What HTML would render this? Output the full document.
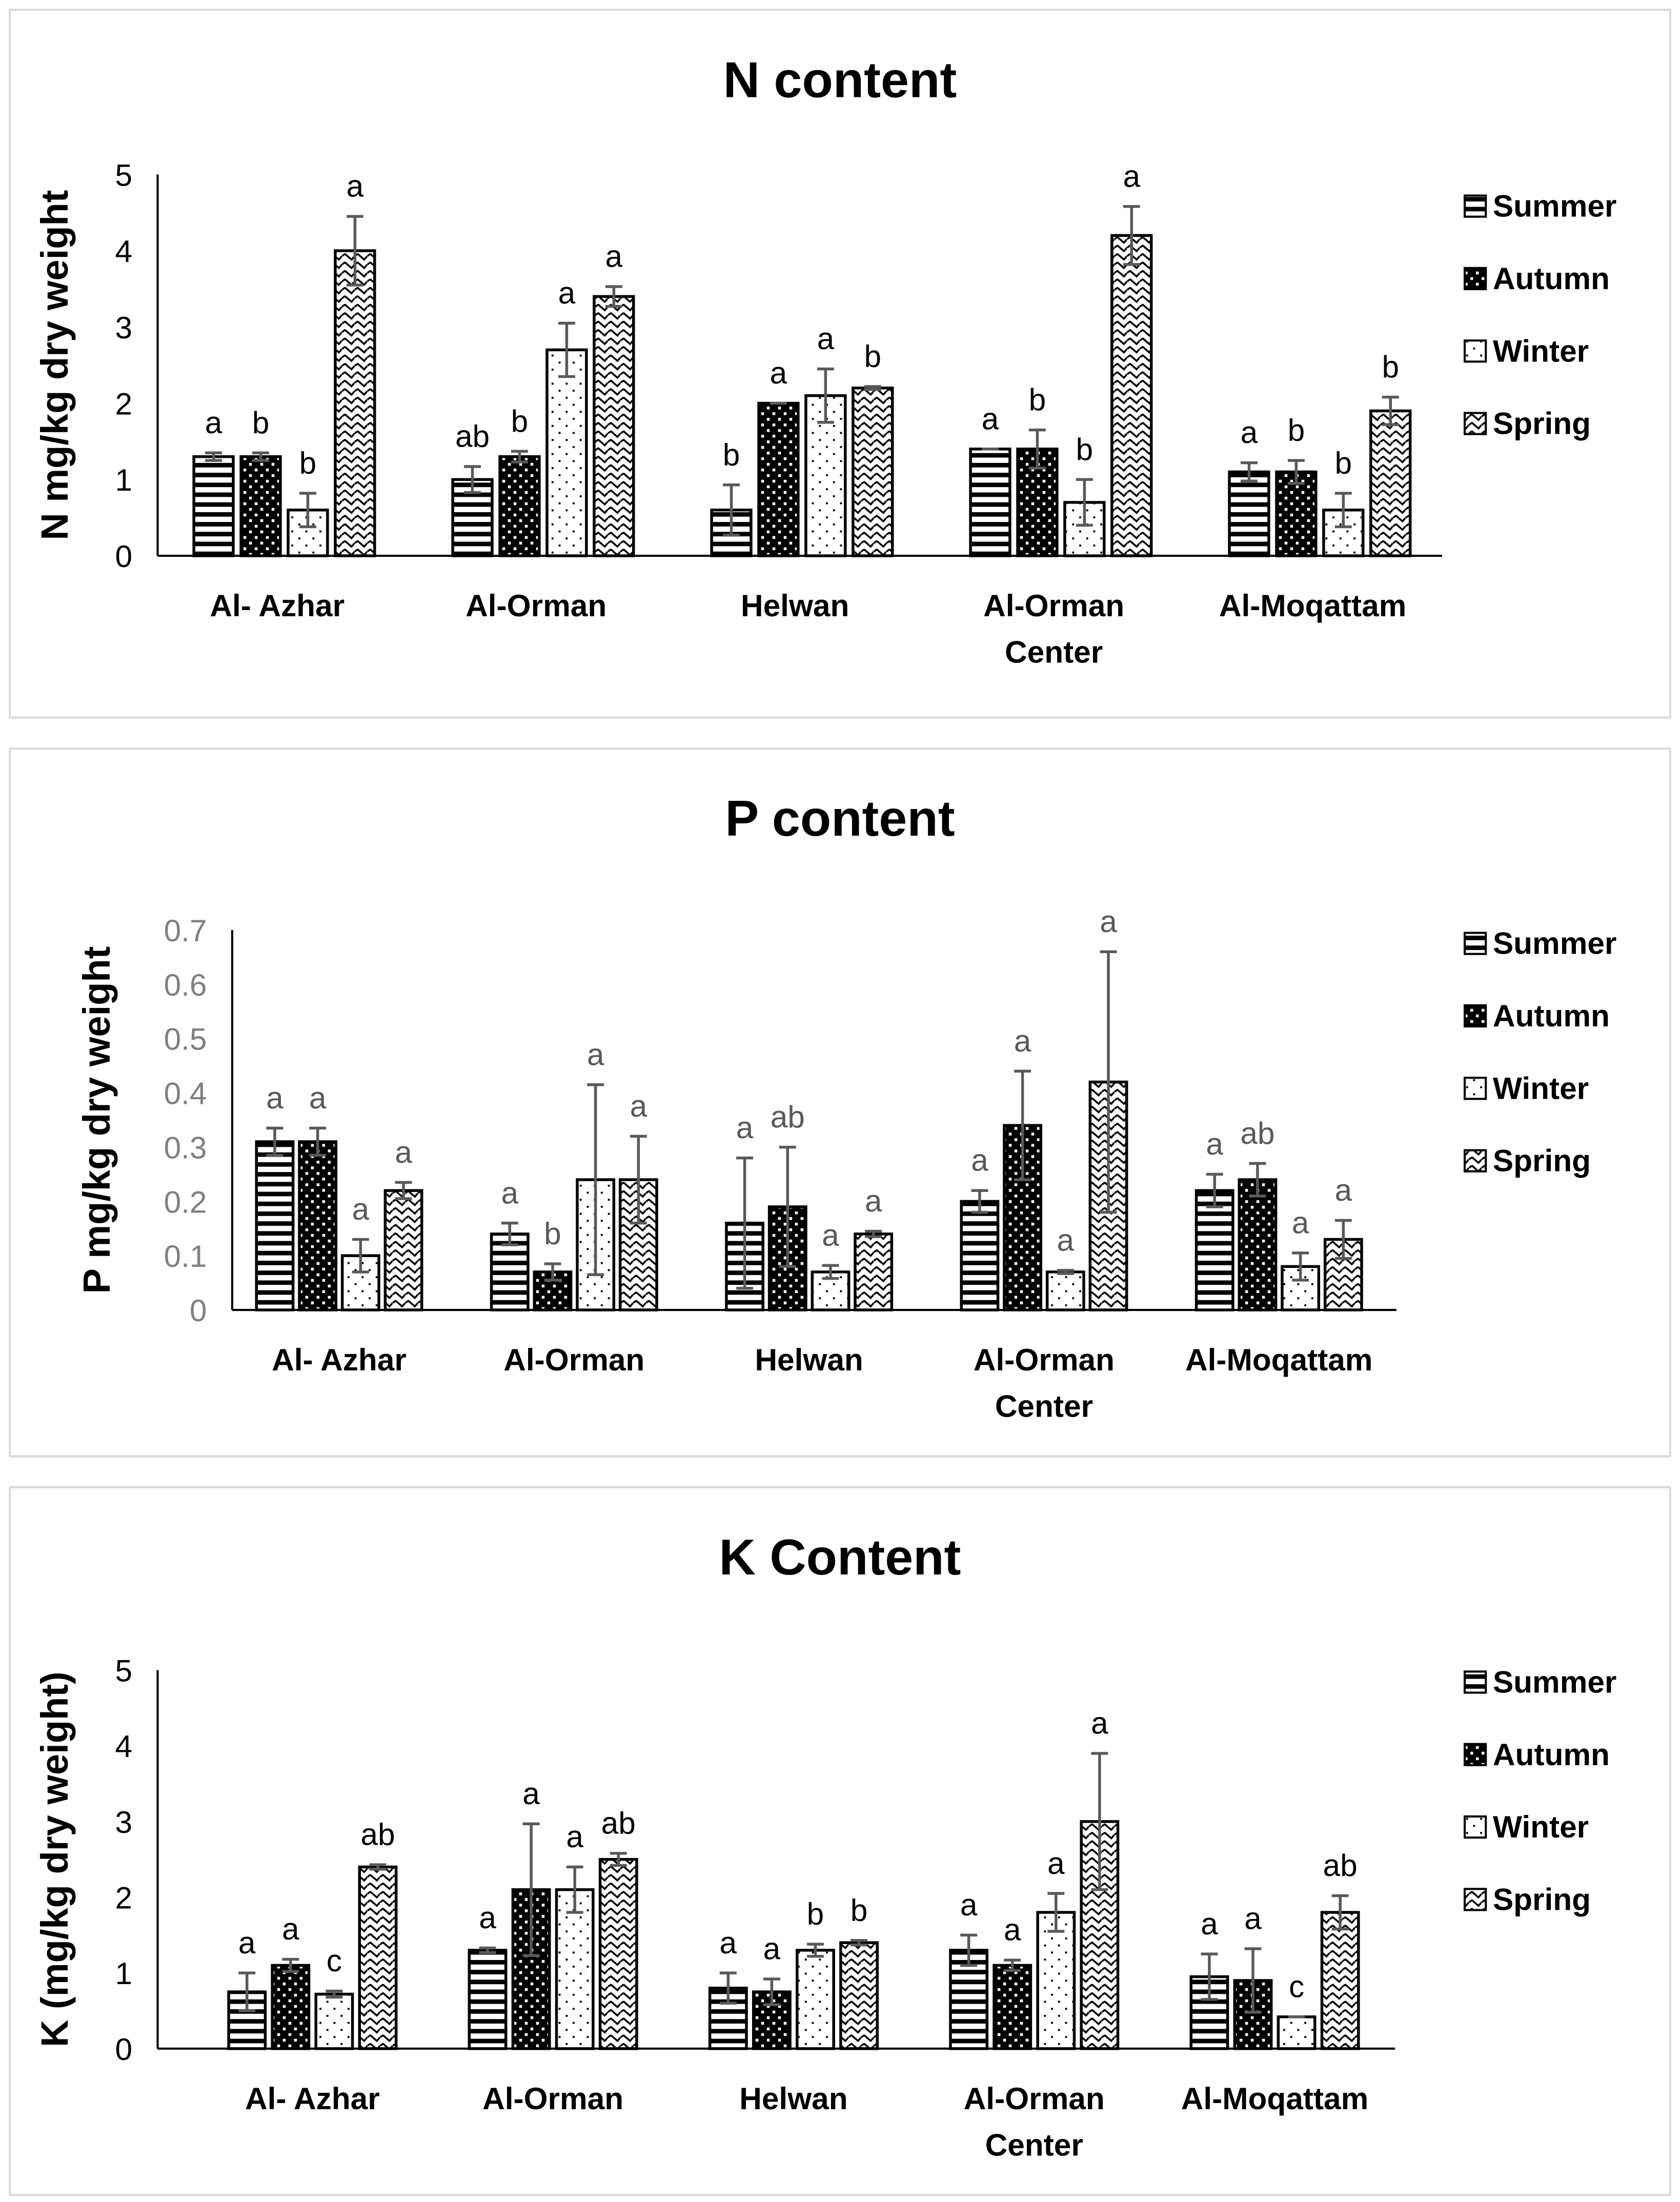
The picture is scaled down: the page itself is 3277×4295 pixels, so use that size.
<!DOCTYPE html>
<html><head><meta charset="utf-8">
<style>
html,body{margin:0;padding:0;background:#fff;}
svg{display:block;}
text{font-family:"Liberation Sans",sans-serif;}
</style></head>
<body>
<svg id="chart" width="3277" height="4295" viewBox="0 0 1194 1565" xmlns="http://www.w3.org/2000/svg">
<defs>
<pattern id="pSummer" patternUnits="userSpaceOnUse" width="8" height="7"><rect width="8" height="7" fill="#fff"/><rect y="0" width="8" height="3.2" fill="#000"/></pattern>
<pattern id="pAutumn" patternUnits="userSpaceOnUse" width="8" height="8"><rect width="8" height="8" fill="#000"/><rect x="1" y="1" width="2" height="2" fill="#fff"/><rect x="5" y="5" width="2" height="2" fill="#fff"/></pattern>
<pattern id="pWinter" patternUnits="userSpaceOnUse" width="10" height="10"><rect width="10" height="10" fill="#fff"/><rect x="2" y="2" width="1.4" height="1.4" fill="#000"/><rect x="7" y="7" width="1.4" height="1.4" fill="#000"/></pattern>
<pattern id="pSpring" patternUnits="userSpaceOnUse" width="9" height="6"><rect width="9" height="6" fill="#fff"/><polyline points="0,2 2.2,0.5 4.5,2.5 6.8,4.5 9,2" fill="none" stroke="#000" stroke-width="1.3"/></pattern>
</defs>
</svg>
<script>
const categories = ["Al- Azhar","Al-Orman","Helwan","Al-Orman|Center","Al-Moqattam"];
const seasons = ["Summer","Autumn","Winter","Spring"];
// N content
const nValues = [[1.3,1.3,0.6,4.0],[1.0,1.3,2.7,3.4],[0.6,2.0,2.1,2.2],[1.4,1.4,0.7,4.2],[1.1,1.1,0.6,1.9]];
const nErrors = [[0.05,0.05,0.22,0.45],[0.17,0.07,0.35,0.13],[0.33,0.0,0.35,0.02],[0.0,0.25,0.3,0.38],[0.12,0.15,0.22,0.18]];
const nLetters = [["a","b","b","a"],["ab","b","a","a"],["b","a","a","b"],["a","b","b","a"],["a","b","b","b"]];
const nTicks = ["0","1","2","3","4","5"];
// P content
const pValues = [[0.31,0.31,0.10,0.22],[0.14,0.07,0.24,0.24],[0.16,0.19,0.07,0.14],[0.20,0.34,0.07,0.42],[0.22,0.24,0.08,0.13]];
const pErrors = [[0.025,0.025,0.03,0.015],[0.02,0.015,0.175,0.08],[0.12,0.11,0.012,0.005],[0.02,0.1,0.003,0.24],[0.03,0.03,0.025,0.035]];
const pLetters = [["a","a","a","a"],["a","b","a","a"],["a","ab","a","a"],["a","a","a","a"],["a","ab","a","a"]];
const pTicks = ["0","0.1","0.2","0.3","0.4","0.5","0.6","0.7"];
// K content
const kValues = [[0.75,1.1,0.72,2.4],[1.3,2.1,2.1,2.5],[0.8,0.75,1.3,1.4],[1.3,1.1,1.8,3.0],[0.95,0.9,0.42,1.8]];
const kErrors = [[0.25,0.08,0.04,0.03],[0.03,0.87,0.3,0.08],[0.2,0.17,0.08,0.03],[0.2,0.07,0.25,0.9],[0.3,0.42,0.0,0.22]];
const kLetters = [["a","a","c","ab"],["a","a","a","ab"],["a","a","b","b"],["a","a","a","a"],["a","a","c","ab"]];
const kTicks = ["0","1","2","3","4","5"];

const NS="http://www.w3.org/2000/svg";
const svg=document.getElementById("chart");
const fills=["url(#pSummer)","url(#pAutumn)","url(#pWinter)","url(#pSpring)"];
function mk(tag,attrs,parent){const e=document.createElementNS(NS,tag);for(const k in attrs)e.setAttribute(k,attrs[k]);(parent||svg).appendChild(e);return e;}

function panel(cfg){
  const g=mk("g",{});
  
  
  const border=mk("rect",{x:7,y:cfg.top,width:1180,height:503,fill:"#fff",stroke:"#d9d9d9","stroke-width":1.5},g);
  
  
  const t=mk("text",{x:597,y:cfg.top+62,"text-anchor":"middle","font-size":36,"font-weight":"bold",fill:"#000"},g);
  t.textContent=cfg.title;
  
  
  const ymax=cfg.ticks.length-1;
  const unit=parseFloat(cfg.ticks[ymax]);
  const y=v=>cfg.y0-(v/unit)*(cfg.y0-cfg.yTop);
  const ya=mk("line",{x1:cfg.ax,y1:cfg.yTop,x2:cfg.ax,y2:cfg.y0,stroke:"#000","stroke-width":1.5},g);
  
  
  cfg.ticks.forEach(tk=>{
    const tt=mk("text",{x:cfg.ax-18,y:y(parseFloat(tk))+8,"text-anchor":"end","font-size":22,fill:cfg.tickColor},g);
    tt.textContent=tk;
    
    
  });
  const yt=mk("text",{x:0,y:0,transform:`translate(${cfg.ytx},${(cfg.y0+cfg.yTop)/2}) rotate(-90)`,"text-anchor":"middle","font-size":27,"font-weight":"bold",fill:"#000"},g);
  yt.textContent=cfg.ytitle;
  
  
  categories.forEach((c,i)=>{
    const cx=cfg.gx0+i*cfg.gstep;
    const lines=c.split("|");
    lines.forEach((ln,j)=>{
      const xl=mk("text",{x:cx,y:cfg.y0+43+j*33,"text-anchor":"middle","font-size":22,"font-weight":"bold",fill:"#000"},g);
      xl.textContent=ln;
      
      
    });
    const bc=cx+cfg.boff;
    seasons.forEach((s,k)=>{
      const v=cfg.values[i][k], e=cfg.errors[i][k];
      const bx=bc-2*cfg.bstep+k*cfg.bstep+(cfg.bstep-cfg.bw)/2;
      const b=mk("rect",{x:bx,y:y(v),width:cfg.bw,height:cfg.y0-y(v),fill:fills[k],stroke:"#000","stroke-width":2},g);
      
      
      const mx=bx+cfg.bw/2;
      const eb=mk("path",{d:`M${mx},${y(v+e)}V${y(v-e)}M${mx-6},${y(v+e)}H${mx+6}M${mx-6},${y(v-e)}H${mx+6}`,stroke:"#595959","stroke-width":2,fill:"none"},g);
      
      
      const lt=mk("text",{x:mx,y:y(v+e)-14,"text-anchor":"middle","font-size":22,fill:cfg.letterColor},g);
      lt.textContent=cfg.letters[i][k];
      
      
    });
  });
  const xa=mk("line",{x1:cfg.ax,y1:cfg.y0,x2:cfg.gx0+4.5*cfg.gstep,y2:cfg.y0,stroke:"#000","stroke-width":1.5},g);
  
  
  seasons.forEach((s,k)=>{
    const ly=cfg.legY+k*51.5;
    const sw=mk("rect",{x:1041,y:ly-13,width:15,height:15,fill:fills[k],stroke:"#000","stroke-width":1.5},g);
    
    
    const lt=mk("text",{x:1061,y:ly+2,"font-size":22,"font-weight":"bold",fill:"#000"},g);
    lt.textContent=s;
    
    
  });
}
panel({key:"n",title:"N content",top:7,ax:112,y0:395,yTop:124,ticks:nTicks,values:nValues,errors:nErrors,letters:nLetters,
  gx0:197,gstep:184,boff:5,bstep:33.5,bw:28,ytitle:"N mg/kg dry weight",ytx:48,tickColor:"#000",letterColor:"#000",legY:152});
panel({key:"p",title:"P content",top:532,ax:165,y0:931,yTop:661,ticks:pTicks,values:pValues,errors:pErrors,letters:pLetters,
  gx0:241,gstep:167,boff:0,bstep:30.5,bw:26,ytitle:"P mg/kg dry weight",ytx:78,tickColor:"#7f7f7f",letterColor:"#595959",legY:676});
panel({key:"k",title:"K Content",top:1057,ax:112,y0:1456,yTop:1187,ticks:kTicks,values:kValues,errors:kErrors,letters:kLetters,
  gx0:222,gstep:171,boff:0,bstep:31,bw:26,ytitle:"K (mg/kg dry weight)",ytx:48,tickColor:"#000",letterColor:"#000",legY:1201});
</script>
</body></html>
